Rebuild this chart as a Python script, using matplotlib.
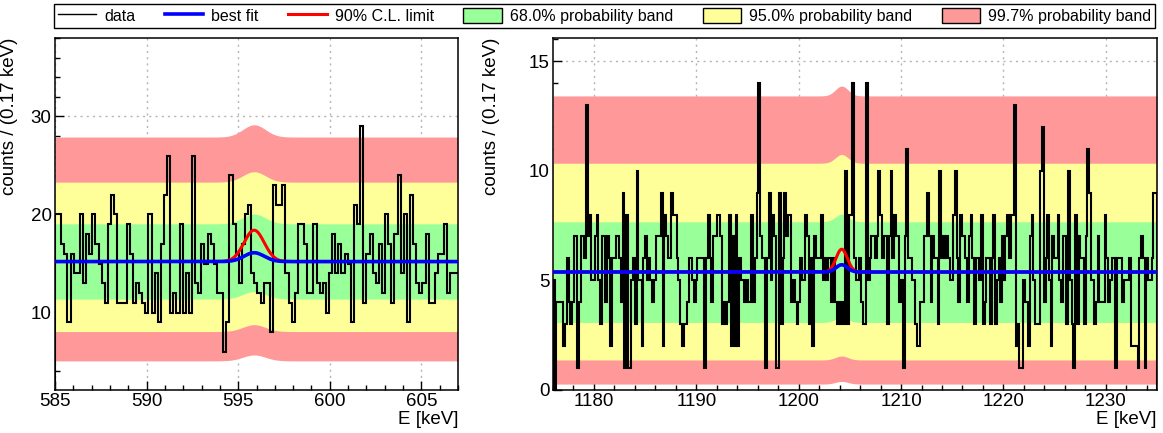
import numpy as np
import matplotlib.pyplot as plt
from matplotlib.lines import Line2D
from matplotlib.patches import Patch
from matplotlib.ticker import MultipleLocator

plt.rcParams['font.family'] = ['Liberation Sans', 'DejaVu Sans']

bin_width = 0.17  # keV

# left panel: 585 - 607 keV
left_start = 585.0
left_counts = [20, 20, 17, 16, 9, 16, 14, 14, 20, 13,
               18, 16, 20, 17, 15, 13, 11, 19, 22, 20,
               11, 11, 11, 19, 16, 11, 13, 12, 11, 10,
               20, 10, 14, 9, 17, 22, 26, 10, 12, 10,
               19, 10, 14, 10, 26, 13, 12, 17, 15, 18,
               17, 15, 12, 12, 6, 9, 24, 19, 16, 13,
               17, 20, 21, 14, 13, 12, 11, 13, 13, 8,
               23, 21, 21, 23, 14, 11, 9, 12, 19, 19,
               17, 12, 12, 19, 13, 12, 13, 10, 14, 18,
               14, 17, 14, 16, 15, 9, 21, 19, 29, 11,
               16, 18, 14, 13, 17, 12, 20, 17, 11, 18,
               24, 14, 20, 9, 22, 17, 13, 12, 13, 18,
               11, 11, 14, 16, 16, 19, 12, 14, 14, 14]

# right panel: 1176 - 1235 keV
right_start = 1176.0
right_counts = [5, 0, 4, 4, 4, 4, 2, 3, 6, 4, 3, 4, 7, 7, 1, 4, 7, 7, 6, 13,
                7, 8, 5, 5, 7, 8, 5, 3, 7, 7, 4, 7, 6, 2, 6, 6, 7, 7, 6, 4,
                9, 1, 8, 1, 1, 5, 6, 3, 10, 5, 5, 2, 6, 7, 5, 6, 5, 4, 5, 7,
                7, 7, 9, 2, 8, 7, 6, 6, 9, 8, 8, 6, 5, 3, 2, 3, 3, 4, 6, 6,
                5, 4, 5, 6,
                6, 6, 6, 1, 6, 8, 6, 4, 7, 7, 8, 8, 7, 3, 4, 3, 4, 8, 2, 7,
                2, 8, 2, 6, 5, 5, 4, 5, 4, 4, 8, 4, 6, 9, 14, 7, 6, 6, 1, 6,
                9, 5, 8, 7, 1, 1, 9, 3, 6, 9, 7, 8, 8, 4, 5, 4, 3, 4, 6, 5,
                5, 8, 7, 3, 6, 2, 7, 6, 6, 6, 8, 5, 6, 5, 6, 6, 4, 6, 4, 3,
                4, 3, 4, 3, 10, 3,
                8, 8, 14, 6, 5, 5, 6, 4, 3, 3, 14, 5, 6, 7, 7, 6, 7, 10, 8, 6,
                7, 7, 3, 7, 10, 6, 8, 7, 7, 4, 5, 1, 7, 11, 6, 6, 5, 5, 3, 2,
                2, 4, 4, 7, 7, 9, 7, 4, 7, 6, 6, 3, 10, 6, 7, 6, 7, 6, 5, 5,
                8, 10, 6, 4, 8, 7, 7, 6, 4, 7, 8, 6, 3, 6, 6, 5, 8, 3, 4, 6,
                6, 3, 6, 8, 3, 5,
                6, 4, 7, 5, 7, 8, 6, 8, 8, 13, 2, 3, 1, 1, 5, 4, 4, 2, 7, 8,
                5, 3, 3, 3, 10, 12, 4, 6, 8, 5, 2, 7, 6, 6, 8, 5, 4, 7, 7, 3,
                10, 5, 3, 1, 8, 3, 7, 6, 6, 3,
                7, 11, 9, 5, 5, 3, 4, 7, 4, 4, 4, 8, 6, 4, 5, 6, 6, 1, 6, 6,
                6, 4, 5, 5, 5, 6, 2, 2, 2, 2, 1, 6, 7, 6, 1, 6, 5, 5, 6, 9, 9]

# fit model: flat background + gaussian line (best fit and 90% C.L. limit)
left_bkg, left_peak, left_sigma = 15.2, 595.87, 0.55
left_fit_amp, left_limit_amp = 0.9, 3.2
right_bkg, right_peak, right_sigma = 5.38, 1204.2, 0.55
right_fit_amp, right_limit_amp = 0.33, 1.04

# probability bands, order: 99.7%, 95%, 68% (edge far from peak, rise at peak)
left_band_lo = [5.07, 8.06, 11.37]
left_band_hi = [27.9, 23.3, 19.05]
left_band_lo_bump = [0.6, 0.7, 0.77]
left_band_hi_bump = [1.25, 1.06, 1.0]
right_band_lo = [0.27, 1.37, 3.08]
right_band_hi = [13.41, 10.34, 7.67]
right_band_lo_bump = [0.12, 0.18, 0.22]
right_band_hi_bump = [0.45, 0.4, 0.35]
band_sigma = 0.62

band_colors = ['#ff9999', '#ffff99', '#99ff99']
band_labels = ['99.7% probability band', '95.0% probability band', '68.0% probability band']

W, H = 1163, 433
fig = plt.figure(figsize=(W / 100, H / 100), dpi=100)
ax1 = fig.add_axes([55 / W, 1 - 390 / H, 403 / W, 352 / H])
ax2 = fig.add_axes([553 / W, 1 - 390 / H, 604 / W, 352 / H])


def draw_panel(ax, start, counts, bkg, peak, sigma, fit_amp, lim_amp,
               lo, hi, lo_bump, hi_bump, xlim, ylim):
    edges = start + bin_width * np.arange(len(counts) + 1)
    x = np.linspace(xlim[0], xlim[1], 1000)
    shape = np.exp(-0.5 * ((x - peak) / sigma) ** 2)
    bshape = np.exp(-0.5 * ((x - peak) / band_sigma) ** 2)
    for i in range(3):
        ax.fill_between(x, lo[i] + lo_bump[i] * bshape, hi[i] + hi_bump[i] * bshape,
                        color=band_colors[i], lw=0, zorder=1)
    ax.stairs(counts, edges, color='black', lw=1.5, zorder=3)
    ax.plot(x, bkg + lim_amp * shape, color='red', lw=2.2, zorder=4)
    ax.plot(x, bkg + fit_amp * shape, color='blue', lw=2.6, zorder=5)
    ax.set_xlim(*xlim)
    ax.set_ylim(*ylim)
    ax.set_axisbelow(True)
    ax.grid(True, which='major', color='#b4b4b4', linestyle=(0, (1.5, 3)), lw=1)
    ax.tick_params(which='both', direction='in', top=False, right=False,
                   labelsize=13.5, width=1)
    ax.tick_params(which='major', length=6.5, pad=2.5)
    ax.tick_params(which='minor', length=3.5)
    for s in ax.spines.values():
        s.set_linewidth(1.1)
    ax.set_xlabel('E [keV]', fontsize=13.5, ha='right')
    ax.set_ylabel('counts / (0.17 keV)', fontsize=13.5, ha='right')


draw_panel(ax1, left_start, left_counts, left_bkg, left_peak, left_sigma,
           left_fit_amp, left_limit_amp, left_band_lo, left_band_hi,
           left_band_lo_bump, left_band_hi_bump, (585, 607), (2.1, 38))
ax1.xaxis.set_major_locator(MultipleLocator(5))
ax1.xaxis.set_minor_locator(MultipleLocator(1))
ax1.yaxis.set_major_locator(MultipleLocator(10))
ax1.yaxis.set_minor_locator(MultipleLocator(2))
ax1.xaxis.set_label_coords(1.0, -0.06)
ax1.yaxis.set_label_coords(-0.092, 1.0)

draw_panel(ax2, right_start, right_counts, right_bkg, right_peak, right_sigma,
           right_fit_amp, right_limit_amp, right_band_lo, right_band_hi,
           right_band_lo_bump, right_band_hi_bump, (1176, 1235), (0, 16.05))
ax2.xaxis.set_major_locator(MultipleLocator(10))
ax2.xaxis.set_minor_locator(MultipleLocator(2))
ax2.yaxis.set_major_locator(MultipleLocator(5))
ax2.yaxis.set_minor_locator(MultipleLocator(1))
ax2.xaxis.set_label_coords(1.0, -0.06)
ax2.yaxis.set_label_coords(-0.088, 1.0)

handles = [Line2D([], [], color='black', lw=1),
           Line2D([], [], color='blue', lw=2.6),
           Line2D([], [], color='red', lw=2.2)]
labels = ['data', 'best fit', '90% C.L. limit']
for i in [2, 1, 0]:
    handles.append(Patch(facecolor=band_colors[i], edgecolor='black', lw=1))
    labels.append(band_labels[i])

leg = fig.legend(handles, labels, loc='upper left', ncol=6, mode='expand',
                 bbox_to_anchor=(54 / W, 1 - 29 / H, 1101 / W, 25 / H),
                 borderaxespad=0, fontsize=11.5, fancybox=False, framealpha=1,
                 edgecolor='black', handlelength=2.4, handleheight=1.05,
                 handletextpad=0.5, borderpad=0.25, columnspacing=1.0)
leg.get_frame().set_linewidth(1.0)

fig.savefig('out.png', dpi=100)
